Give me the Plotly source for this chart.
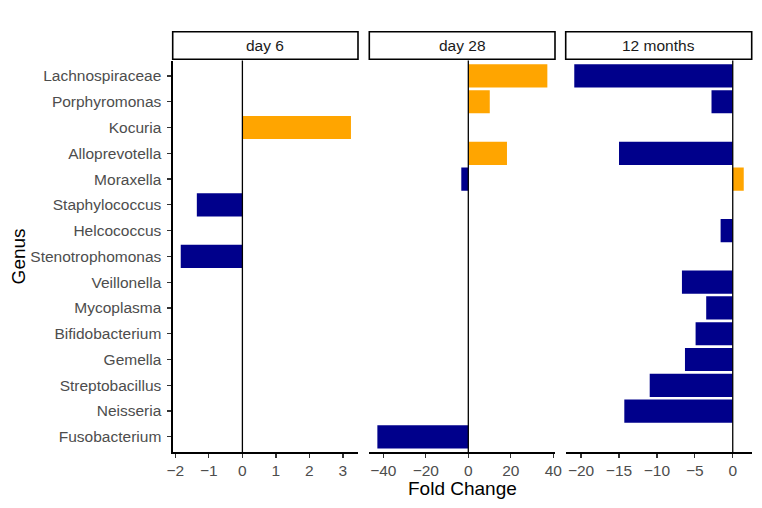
import plotly.graph_objects as go

genera = ["Lachnospiraceae", "Porphyromonas", "Kocuria", "Alloprevotella", "Moraxella",
          "Staphylococcus", "Helcococcus", "Stenotrophomonas", "Veillonella", "Mycoplasma",
          "Bifidobacterium", "Gemella", "Streptobacillus", "Neisseria", "Fusobacterium"]

panels = ["day 6", "day 28", "12 months"]

day6_genus = ["Kocuria", "Staphylococcus", "Stenotrophomonas"]
day6_fc = [3.24, -1.36, -1.84]

day28_genus = ["Lachnospiraceae", "Porphyromonas", "Alloprevotella", "Moraxella", "Fusobacterium"]
day28_fc = [37.2, 10.1, 18.2, -3.3, -42.8]

m12_genus = ["Lachnospiraceae", "Porphyromonas", "Alloprevotella", "Moraxella", "Helcococcus",
             "Veillonella", "Mycoplasma", "Bifidobacterium", "Gemella", "Streptobacillus", "Neisseria"]
m12_fc = [-20.9, -2.8, -15.0, 1.45, -1.6, -6.7, -3.5, -4.9, -6.3, -10.95, -14.3]

day6_ticks = [-2, -1, 0, 1, 2, 3]
day28_ticks = [-40, -20, 0, 20, 40]
m12_ticks = [-20, -15, -10, -5, 0]

UP = "#FFA500"
DOWN = "#00008B"

W, H = 762, 508
px = lambda v: v / W
py = lambda v: (H - v) / H

x_domains = [[px(172.7), px(358.0)], [px(369.3), px(555.0)], [px(565.7), px(751.7)]]
x_ranges = [[-2.08, 3.45], [-46.6, 40.8], [-22.03, 2.5]]
y_domain = [py(452.3), py(60.5)]
strip_y = [py(59.3), py(31.7)]

data = [(day6_genus, day6_fc, day6_ticks), (day28_genus, day28_fc, day28_ticks),
        (m12_genus, m12_fc, m12_ticks)]

FONT = "Liberation Sans, Arial, Helvetica, sans-serif"
fig = go.Figure()
layout = dict(
    width=W, height=H, margin=dict(l=0, r=0, t=0, b=0, autoexpand=False),
    template="none",
    paper_bgcolor="white", plot_bgcolor="white",
    font=dict(family=FONT), showlegend=False, bargap=0.1,
)
shapes = []
annotations = []
for i, (g, v, t) in enumerate(data):
    n = i + 1
    xa = "x" if n == 1 else f"x{n}"
    ya = "y" if n == 1 else f"y{n}"
    fig.add_trace(go.Bar(
        x=v, y=g, orientation="h", xaxis=xa, yaxis=ya, width=0.9,
        marker=dict(color=[UP if val > 0 else DOWN for val in v], line=dict(width=0)),
    ))
    layout["xaxis" if n == 1 else f"xaxis{n}"] = dict(
        domain=x_domains[i], range=x_ranges[i], anchor=ya, automargin=False,
        tickvals=t, ticktext=[str(x).replace("-", "\u2212") for x in t],
        showline=True, linecolor="black", linewidth=1.3,
        ticks="outside", ticklen=4, tickwidth=1.2, tickcolor="#333333",
        tickfont=dict(size=15.5, color="#4D4D4D", family=FONT),
        ticklabelstandoff=0,
        showgrid=False, zeroline=False, fixedrange=True,
    )
    yax = dict(
        domain=y_domain, anchor=xa, type="category", automargin=False,
        categoryorder="array", categoryarray=genera, range=[14.6, -0.6],
        showgrid=False, zeroline=False, fixedrange=True,
    )
    if n == 1:
        yax.update(showline=True, linecolor="black", linewidth=1.3,
                   ticks="outside", ticklen=4, tickwidth=1.2, tickcolor="#333333",
                   tickfont=dict(size=15.5, color="#4D4D4D", family=FONT),
                   ticklabelstandoff=3)
    else:
        yax.update(matches="y", showline=False, ticks="", showticklabels=False)
    layout["yaxis" if n == 1 else f"yaxis{n}"] = yax

    shapes.append(dict(type="line", xref=xa, yref=f"{ya} domain", x0=0, x1=0, y0=0, y1=1,
                       line=dict(color="black", width=1.3), layer="above"))
    shapes.append(dict(type="rect", xref="paper", yref="paper",
                       x0=x_domains[i][0], x1=x_domains[i][1], y0=strip_y[0], y1=strip_y[1],
                       line=dict(color="black", width=1.6), fillcolor="white"))
    annotations.append(dict(text=panels[i], xref="paper", yref="paper",
                            x=(x_domains[i][0] + x_domains[i][1]) / 2,
                            y=(strip_y[0] + strip_y[1]) / 2, showarrow=False,
                            xanchor="center", yanchor="middle",
                            font=dict(size=15.5, color="#1A1A1A", family=FONT)))

annotations.append(dict(text="Fold Change", xref="paper", yref="paper",
                        x=(x_domains[0][0] + x_domains[2][1]) / 2, y=py(488),
                        showarrow=False, xanchor="center", yanchor="middle",
                        font=dict(size=19, color="black", family=FONT)))
annotations.append(dict(text="Genus", xref="paper", yref="paper",
                        x=px(18), y=(y_domain[0] + y_domain[1]) / 2, textangle=-90,
                        showarrow=False, xanchor="center", yanchor="middle",
                        font=dict(size=19, color="black", family=FONT)))

layout["shapes"] = shapes
layout["annotations"] = annotations
fig.update_layout(**layout)
fig.write_html("out.html", config={"displayModeBar": False, "staticPlot": True},
               post_script="document.body.style.margin='0';document.body.style.overflow='hidden';")
